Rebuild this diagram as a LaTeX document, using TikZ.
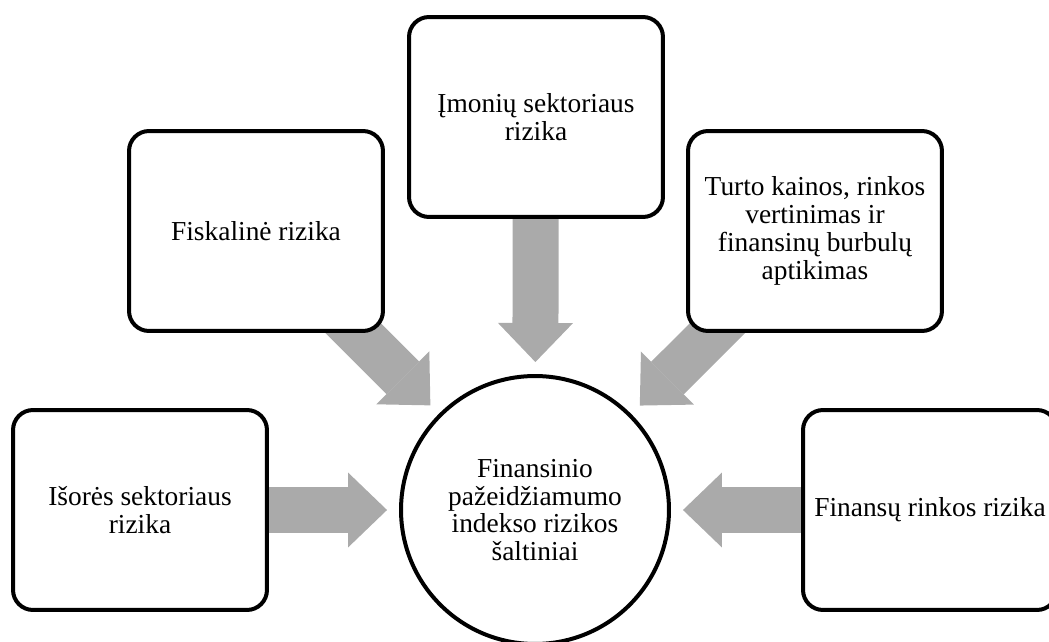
\documentclass[tikz,border=0pt]{standalone}
\usepackage{fontspec}
\setmainfont{Liberation Serif}
\usetikzlibrary{arrows.meta, backgrounds}
\definecolor{arrowgray}{RGB}{170,170,170}

\begin{document}
\begin{tikzpicture}[x=0.02cm, y=-0.02cm,
  riskbox/.style={draw, line width=0.08cm, fill=white, rounded corners=0.4cm,
    minimum width=5.08cm, minimum height=4cm, inner sep=0pt, align=center,
    font=\fontsize{15.6pt}{15.8pt}\selectfont},
  flow/.style={draw=arrowgray, line width=0.92cm, shorten >=0.24cm,
    -{Triangle[length=0.78cm, width=1.5cm, line width=0pt, fill=arrowgray]}}]
\useasboundingbox (0,0) rectangle (1049,642);
% source boxes
\node[riskbox] (outer) at (140,510) {Išorės sektoriaus\\rizika};
\node[riskbox] (fisk) at (256,231) {Fiskalinė rizika};
\node[riskbox] (imon) at (536,117) {Įmonių sektoriaus\\rizika};
\node[riskbox] (turto) at (815,231) {Turto kainos, rinkos\\vertinimas ir\\finansinų burbulų\\aptikimas};
\node[riskbox] (finrink) at (930,510) {Finansų rinkos rizika};
% centre
\node[draw, circle, line width=0.08cm, fill=white, minimum size=5.36cm, inner sep=0pt,
  align=center, font=\fontsize{15.6pt}{15.8pt}\selectfont] (circ) at (535,510)
  {Finansinio\\pažeidžiamumo\\indekso rizikos\\šaltiniai};
\begin{scope}[on background layer]
\foreach \src in {outer, fisk, imon, turto, finrink}{
  \draw[flow] (\src.center) -- (circ);
  }
\end{scope}
\end{tikzpicture}
\end{document}
